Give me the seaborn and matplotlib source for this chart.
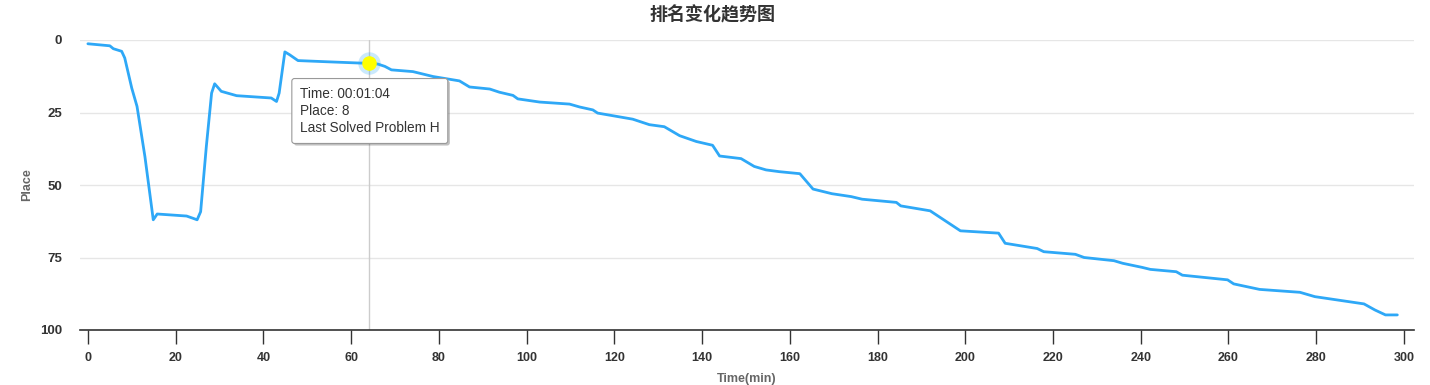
import matplotlib
matplotlib.use("Agg")
import matplotlib.pyplot as plt
import matplotlib.patheffects as pe
import pandas as pd
import seaborn as sns

# values
time_min = [0, 5, 5.8, 7.7, 8.4, 10.0, 11.2, 13.0, 14.1, 14.9, 15.8, 22.5, 24.0, 24.9,
            25.7, 27.0, 28.2, 28.9, 30.4, 33.9, 41.8, 43.0, 43.6, 44.9, 46.0, 47.9,
            54.4, 62.0, 64, 66.1, 67.7, 69.2, 74.1, 78.7, 84.7, 87.0, 91.6, 93.8,
            96.9, 98.0, 103.0, 109.8, 112.1, 115.1, 116.2, 124.2, 128.0, 131.4,
            134.9, 138.7, 142.4, 144.0, 148.9, 151.9, 154.6, 157.6, 162.3, 165.3,
            169.6, 174.0, 176.5, 184.3, 185.3, 192.0, 198.9, 207.6, 209.1, 216.4,
            217.9, 225.1, 227.1, 233.9, 235.9, 240.3, 242.2, 248.1, 249.5, 259.8,
            261.2, 267.1, 276.3, 279.7, 290.9, 293.4, 295.8, 298.5]
place = [1.3, 2.0, 3.0, 3.9, 6.2, 16.6, 22.9, 40.2, 52.8, 62.0, 60.0, 60.7, 61.5, 62.0,
         59.2, 36.7, 18.3, 15.1, 17.7, 19.2, 20.0, 21.2, 18.3, 4.1, 5.1, 7.1,
         7.5, 7.95, 8, 8.3, 9.1, 10.3, 10.9, 12.6, 14.1, 16.2, 16.9, 18.0,
         19.1, 20.3, 21.4, 22.1, 23.1, 24.1, 25.2, 27.3, 29.2, 29.9,
         33.0, 35.0, 36.3, 40.0, 40.9, 43.6, 44.8, 45.4, 46.1, 51.4,
         53.0, 54.0, 54.9, 56.0, 57.2, 58.9, 65.8, 66.6, 70.1, 71.9,
         73.0, 73.9, 75.0, 76.1, 77.0, 78.4, 79.1, 79.9, 81.1, 82.7,
         84.1, 86.0, 87.0, 88.5, 91.0, 93.1, 94.8, 94.8]
x_ticks = list(range(0, 301, 20))
y_ticks = [0, 25, 50, 75, 100]
hover_time = 64
hover_place = 8
hover_label = "Time: 00:01:04\nPlace: 8\nLast Solved Problem H"

df = pd.DataFrame({"time": time_min, "place": place})

sns.set_theme(style="white")
plt.rcParams["font.family"] = ["Liberation Sans", "DejaVu Sans"]

fig = plt.figure(figsize=(14.3, 3.85), dpi=100)
ax = fig.add_axes([80 / 1430, 55 / 385, 1334 / 1430, 290 / 385])

sns.lineplot(data=df, x="time", y="place", ax=ax, color="#2ea8f7", linewidth=2)

ax.set_xlim(-1.8, 302.3)
ax.set_ylim(100, 0)
ax.set_xticks(x_ticks)
ax.set_yticks(y_ticks)
ax.yaxis.grid(True, color="#e6e6e6", linewidth=1)
ax.xaxis.grid(False)
for s in ["left", "right", "top"]:
    ax.spines[s].set_visible(False)
ax.spines["bottom"].set_color("#333333")
ax.spines["bottom"].set_linewidth(1.2)
ax.tick_params(axis="x", bottom=True, length=10, width=1, color="#333333",
               labelsize=9, labelcolor="#333333", pad=6)
ax.tick_params(axis="y", left=False, labelsize=9.5, labelcolor="#333333", pad=7)
for lbl in ax.get_xticklabels() + ax.get_yticklabels():
    lbl.set_fontweight("bold")

ax.set_xlabel("Time(min)", fontsize=9, fontweight="bold", color="#666666", labelpad=6)
ax.set_ylabel("Place", fontsize=9, fontweight="bold", color="#666666")
ax.yaxis.set_label_coords(-0.035, 0.5)

# crosshair and hovered point
ax.axvline(hover_time, color="#cccccc", linewidth=1, zorder=1)
ax.scatter([hover_time], [hover_place], s=260, color="#2ea8f7", alpha=0.25,
           linewidths=0, zorder=4)
ax.scatter([hover_time], [hover_place], s=110, color="#ffff00", linewidths=0, zorder=5)

# tooltip
tip = fig.text(300 / 1430, 1 - 111 / 385, hover_label, fontsize=9.8, color="#333333",
               va="center", ha="left", linespacing=1.3,
               bbox=dict(boxstyle="round,pad=0.6,rounding_size=0.2", fc="white",
                         ec="#999999", lw=0.8))
tip.get_bbox_patch().set_path_effects([pe.SimplePatchShadow(offset=(1.5, -1.5),
                                                            alpha=0.35), pe.Normal()])

fig.suptitle("排名变化趋势图", x=0.498, y=0.985, fontsize=13, fontweight="bold",
             color="#333333", family=["Noto Sans CJK SC", "DejaVu Sans"])

fig.savefig("out.png", dpi=100)
